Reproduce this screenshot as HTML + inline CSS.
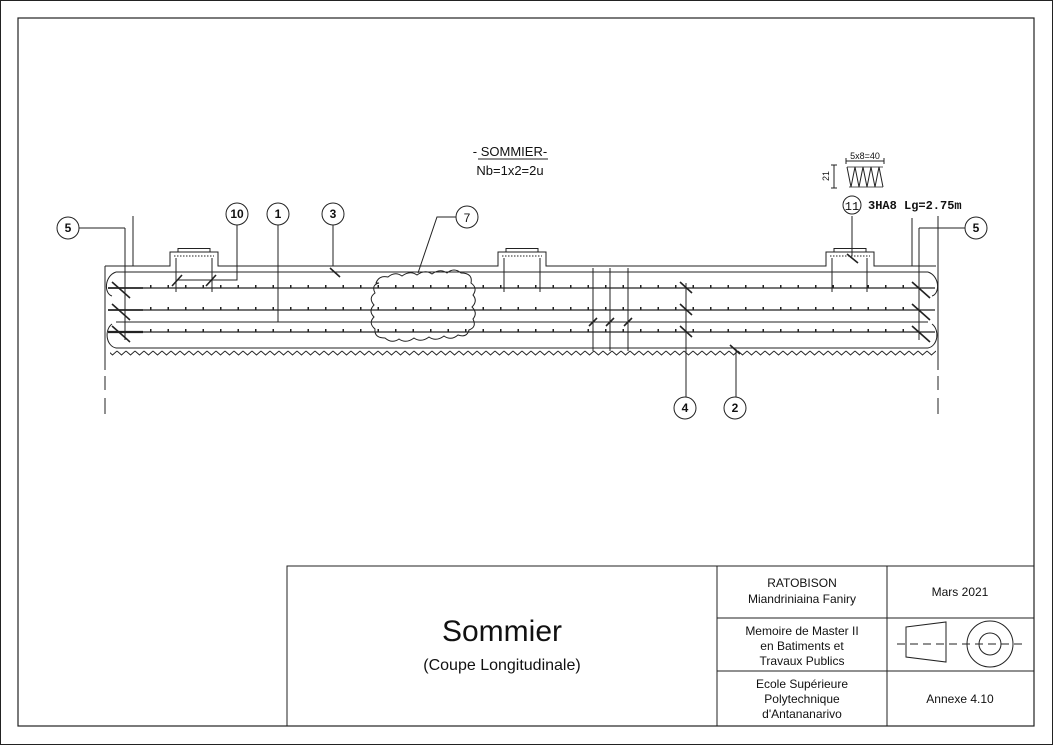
<!DOCTYPE html>
<html><head><meta charset="utf-8"><style>
html,body{margin:0;padding:0;background:#fff}
svg{display:block}
text{font-family:"Liberation Sans",sans-serif;fill:#111}
</style></head><body>
<svg width="1053" height="745" viewBox="0 0 1053 745" xmlns="http://www.w3.org/2000/svg">
<defs>
<pattern id="zig" x="0" y="349" width="9" height="8" patternUnits="userSpaceOnUse">
<polyline points="0,2 4.5,6 9,2" fill="none" stroke="#222" stroke-width="1"/>
</pattern>
<pattern id="ticks" x="115" y="0" width="17.5" height="745" patternUnits="userSpaceOnUse">
<rect x="0" y="0" width="1.5" height="745" fill="#222"/>
</pattern>
</defs>
<rect x="0.5" y="0.5" width="1052" height="744" fill="none" stroke="#222" stroke-width="1"/>
<rect x="18" y="18" width="1016" height="708" fill="none" stroke="#222" stroke-width="1.2"/>

<g stroke="#222" stroke-width="1" fill="none">
<polyline points="105,266 170,266 170,252 218,252 218,266 498,266 498,252 546,252 546,266 826,266 826,252 874,252 874,266 936,266"/>
<rect x="178" y="248.5" width="32" height="3.5"/>
<rect x="506" y="248.5" width="32" height="3.5"/>
<rect x="834" y="248.5" width="32" height="3.5"/>
<line x1="105" y1="266" x2="105" y2="370"/>
<line x1="105" y1="376" x2="105" y2="390" />
<line x1="105" y1="398" x2="105" y2="414"/>
<line x1="938" y1="216" x2="938" y2="370"/>
<line x1="938" y1="376" x2="938" y2="390"/>
<line x1="938" y1="398" x2="938" y2="414"/>
<line x1="133" y1="216" x2="133" y2="266"/>
<line x1="912" y1="218" x2="912" y2="266"/>
<line x1="116" y1="272" x2="928" y2="272"/>
<line x1="116" y1="348" x2="928" y2="348"/>
<path d="M116,272 C104,276 104,294 112,296" />
<path d="M112,324 C104,330 106,346 116,348" />
<path d="M928,272 C940,276 940,294 932,296" />
<path d="M932,324 C940,330 938,346 928,348" />
<line x1="125" y1="228" x2="125" y2="340"/>
<line x1="919" y1="228" x2="919" y2="340"/>
<line x1="108" y1="288" x2="143" y2="288" stroke-width="1.8"/>
<line x1="143" y1="288" x2="935" y2="288" stroke-width="1.2"/>
<line x1="108" y1="310" x2="143" y2="310" stroke-width="1.8"/>
<line x1="143" y1="310" x2="935" y2="310" stroke-width="1.2"/>
<line x1="116" y1="322" x2="928" y2="322"/>
<line x1="108" y1="332" x2="143" y2="332" stroke-width="2.2"/>
<line x1="143" y1="332" x2="935" y2="332" stroke-width="1.2"/>
<line x1="176" y1="258" x2="176" y2="292"/><line x1="212" y1="258" x2="212" y2="292"/>
<line x1="504" y1="258" x2="504" y2="292"/><line x1="540" y1="258" x2="540" y2="292"/>
<line x1="832" y1="258" x2="832" y2="292"/><line x1="867" y1="258" x2="867" y2="292"/>
<line x1="174" y1="256" x2="214" y2="256" stroke-dasharray="1.5 1.5"/>
<line x1="502" y1="256" x2="542" y2="256" stroke-dasharray="1.5 1.5"/>
<line x1="830" y1="256" x2="870" y2="256" stroke-dasharray="1.5 1.5"/>
<line x1="593" y1="268" x2="593" y2="351"/>
<line x1="610" y1="268" x2="610" y2="351"/>
<line x1="628" y1="268" x2="628" y2="351"/>
<g stroke-width="1.6">
<line x1="112" y1="282" x2="130" y2="298"/><line x1="112" y1="304" x2="130" y2="320"/><line x1="112" y1="326" x2="130" y2="342"/>
<line x1="912" y1="282" x2="930" y2="298"/><line x1="912" y1="304" x2="930" y2="320"/><line x1="912" y1="326" x2="930" y2="342"/>
<line x1="680" y1="282" x2="692" y2="293"/><line x1="680" y1="304" x2="692" y2="315"/><line x1="680" y1="326" x2="692" y2="337"/>
<line x1="172" y1="286" x2="182" y2="275"/><line x1="206" y1="286" x2="216" y2="275"/>
<line x1="330" y1="268" x2="340" y2="277"/>
<line x1="730" y1="345" x2="740" y2="354"/>
<line x1="847" y1="254" x2="858" y2="263"/>
<line x1="589" y1="326" x2="597" y2="318"/><line x1="606" y1="326" x2="614" y2="318"/><line x1="624" y1="326" x2="632" y2="318"/>
</g>
</g>
<g fill="url(#ticks)">
<rect x="140" y="285" width="772" height="3"/>
<rect x="140" y="307" width="772" height="3"/>
<rect x="140" y="329" width="772" height="3"/>
</g>
<g stroke="#222" stroke-width="1" fill="none">
<path d="M376,283 q3,-8 12,-6 q7,-6 14,-1 q8,-6 15,-1 q8,-6 15,-1 q8,-6 15,-1 q7,-6 14,0 q12,0 10,10 q7,5 2,12 q5,6 -1,12 q6,6 1,12 q4,8 -4,11 q-2,8 -11,5 q-7,6 -14,1 q-8,6 -15,1 q-8,6 -15,1 q-8,6 -15,1 q-7,5 -14,-1 q-11,0 -10,-9 q-7,-6 -1,-12 q-6,-6 0,-12 q-6,-7 1,-12 q-4,-8 4,-10z"/>
<polyline points="79,228 125,228"/>
<polyline points="237,225 237,280 178,280"/>
<line x1="278" y1="225" x2="278" y2="322"/>
<line x1="333" y1="225" x2="333" y2="266"/>
<polyline points="456,217 437,217 418,273"/>
<line x1="686" y1="283" x2="686" y2="397"/>
<line x1="736" y1="349" x2="736" y2="397"/>
<polyline points="965,228 919,228"/>
<line x1="852" y1="216" x2="852" y2="256"/>
<circle cx="68" cy="228" r="11"/><circle cx="237" cy="214" r="11"/><circle cx="278" cy="214" r="11"/>
<circle cx="333" cy="214" r="11"/><circle cx="467" cy="217" r="11"/><circle cx="685" cy="408" r="11"/>
<circle cx="735" cy="408" r="11"/><circle cx="976" cy="228" r="11"/><circle cx="852" cy="205" r="9"/>
<line x1="478" y1="159" x2="548" y2="159"/>
<line x1="846" y1="161" x2="884" y2="161"/>
<line x1="846" y1="158" x2="846" y2="164"/><line x1="884" y1="158" x2="884" y2="164"/>
<line x1="834" y1="165" x2="834" y2="188"/>
<line x1="831" y1="165" x2="837" y2="165"/><line x1="831" y1="188" x2="837" y2="188"/>
<path d="M847,167 l4,20 l4,-20 l4,20 l4,-20 l4,20 l4,-20 l4,20 l4,-20 l4,20" />
<path d="M847,167 h36 M849,187 h34" stroke-width="0.8"/>
<rect x="287" y="566" width="747" height="160"/>
<line x1="717" y1="566" x2="717" y2="726"/>
<line x1="887" y1="566" x2="887" y2="726"/>
<line x1="717" y1="618" x2="1034" y2="618"/>
<line x1="717" y1="671" x2="1034" y2="671"/>
<polygon points="906,627 946,622 946,662 906,657"/>
<line x1="897" y1="644" x2="1025" y2="644" stroke-dasharray="8 5"/>
<circle cx="990" cy="644" r="23"/><circle cx="990" cy="644" r="11"/>
</g>
<rect x="110" y="349" width="826" height="8" fill="url(#zig)"/>

<g font-size="12" text-anchor="middle" font-weight="bold">
<text x="68" y="232">5</text><text x="237" y="218">10</text><text x="278" y="218">1</text>
<text x="333" y="218">3</text><text x="685" y="412">4</text><text x="735" y="412">2</text><text x="976" y="232">5</text>
</g>
<text x="467" y="222" font-size="12" text-anchor="middle">7</text>
<text x="852" y="210" font-size="12" text-anchor="middle" style="font-family:'Liberation Mono',monospace">11</text>
<text x="868" y="209" font-size="12" font-weight="bold" style="font-family:'Liberation Mono',monospace">3HA8 Lg=2.75m</text>
<text x="865" y="159" font-size="9" text-anchor="middle">5x8=40</text>
<text x="0" y="0" font-size="9" text-anchor="middle" transform="translate(829,176) rotate(-90)">21</text>
<text x="510" y="156" font-size="13" text-anchor="middle">- SOMMIER-</text>
<text x="510" y="175" font-size="13" text-anchor="middle">Nb=1x2=2u</text>

<text x="502" y="641" font-size="30" text-anchor="middle">Sommier</text>
<text x="502" y="670" font-size="16" text-anchor="middle">(Coupe Longitudinale)</text>
<g font-size="12" text-anchor="middle">
<text x="802" y="587">RATOBISON</text>
<text x="802" y="603">Miandriniaina Faniry</text>
<text x="802" y="635">Memoire de Master II</text>
<text x="802" y="650">en Batiments et</text>
<text x="802" y="665">Travaux Publics</text>
<text x="802" y="688">Ecole Supérieure</text>
<text x="802" y="703">Polytechnique</text>
<text x="802" y="718">d'Antananarivo</text>
<text x="960" y="596">Mars 2021</text>
<text x="960" y="703">Annexe 4.10</text>
</g>
</svg>
</body></html>
